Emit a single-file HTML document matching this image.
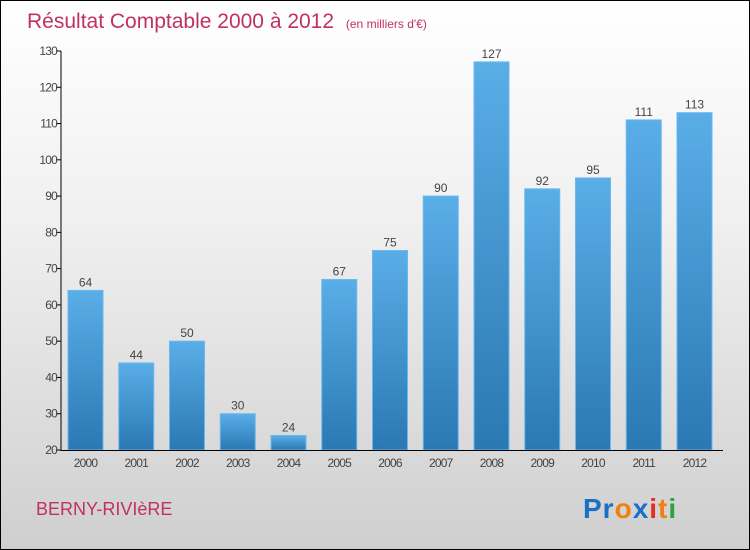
<!DOCTYPE html>
<html><head><meta charset="utf-8"><style>
body{margin:0}
#wrap{position:relative;width:748px;height:548px;border:1px solid #000;background:linear-gradient(#ffffff 0%,#f0f0f0 40%,#cfcfcf 100%);font-family:"Liberation Sans",sans-serif;overflow:hidden}
</style></head><body>
<div id="wrap">
<svg width="748" height="548">
<defs><linearGradient id="bg" x1="0" y1="0" x2="0" y2="1"><stop offset="0" stop-color="#5aaee8"/><stop offset="1" stop-color="#2a78b4"/></linearGradient></defs>
<text x="26" y="27" font-size="21" fill="#c0325e">Résultat Comptable 2000 à 2012 <tspan font-size="12" dx="6">(en milliers d'€)</tspan></text>
<g id="plot"></g>
<text x="35" y="514" font-size="18" fill="#c0325e">BERNY-RIVIèRE</text>
<text x="582" y="517" font-size="28" font-weight="bold" letter-spacing="1"><tspan fill="#1a6fc8">Pr</tspan><tspan fill="#f08010">o</tspan><tspan fill="#1a6fc8">x</tspan><tspan fill="#e03020">i</tspan><tspan fill="#f08010">t</tspan><tspan fill="#30a040">i</tspan></text>
</svg>
</div>
<script>
const years=["2000","2001","2002","2003","2004","2005","2006","2007","2008","2009","2010","2011","2012"];
const values=[64,44,50,30,24,67,75,90,127,92,95,111,113];
const yTicks=[20,30,40,50,60,70,80,90,100,110,120,130];
const ns="http://www.w3.org/2000/svg";
const g=document.getElementById('plot');
const y=v=>449-(v-20)*(399/110);
const x=i=>84.5+i*50.75;
function mk(t,a){const e=document.createElementNS(ns,t);for(const k in a)e.setAttribute(k,a[k]);g.appendChild(e);return e;}
yTicks.forEach(t=>{
 const l=mk('line',{x1:55,x2:60,y1:y(t),y2:y(t),stroke:'#000'});
 
 
 const tx=mk('text',{x:56,y:y(t)+4,'font-size':12,'text-anchor':'end',fill:'#444','letter-spacing':'-0.8'});
 tx.textContent=t;
 
 
});
values.forEach((v,i)=>{
 const r=mk('rect',{x:x(i)-17.5,y:y(v),width:35,height:449-y(v),fill:'url(#bg)',stroke:'#6ab8ee','stroke-width':1});
 
 
 const vl=mk('text',{x:x(i),y:y(v)-4,'font-size':12,'text-anchor':'middle',fill:'#444'});
 vl.textContent=v;
 
 
 const xl=mk('text',{x:x(i),y:466,'font-size':12,'text-anchor':'middle',fill:'#444','letter-spacing':'-0.8'});
 xl.textContent=years[i];
 
 
});
const ya=mk('line',{x1:60,x2:60,y1:y(130),y2:450,stroke:'#000'});


const xa=mk('line',{x1:60,x2:722,y1:449.5,y2:449.5,stroke:'#000'});


</script>
</body></html>
